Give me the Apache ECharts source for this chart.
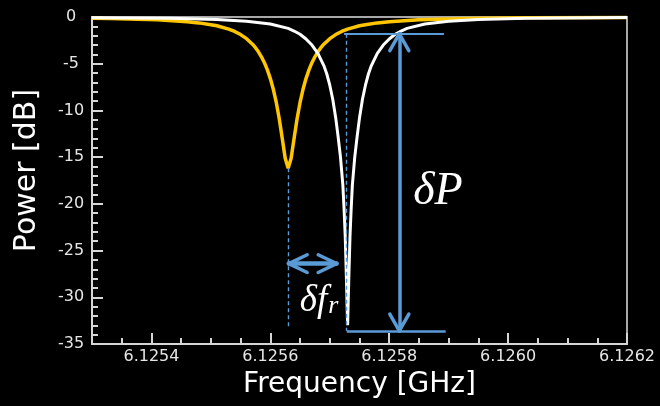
<!DOCTYPE html>
<html>
<head>
<meta charset="utf-8">
<script src="https://cdn.jsdelivr.net/npm/echarts@6/dist/echarts.min.js"></script>
<style>
html,body{margin:0;padding:0;background:#000;}
#chart{width:660px;height:406px;}
</style>
</head>
<body>
<div id="chart"></div>
<script>
// ---- Data ----
const freqYellow = [6.125300, 6.125330, 6.125410, 6.125460, 6.125480, 6.125500, 6.125510, 6.125530, 6.125540, 6.125550,
  6.125560, 6.125570, 6.125575, 6.125580, 6.125585, 6.125590, 6.125595, 6.125600, 6.125605, 6.125610,
  6.125615, 6.125620, 6.125625, 6.125630, 6.125635, 6.125640, 6.125645, 6.125650, 6.125655, 6.125660,
  6.125665, 6.125670, 6.125675, 6.125680, 6.125685, 6.125690, 6.125700, 6.125710, 6.125720, 6.125730,
  6.125750, 6.125760, 6.125780, 6.125800, 6.125850, 6.125930, 6.126030, 6.126200];
const powerYellow = [-0.14, -0.17, -0.30, -0.50, -0.63, -0.82, -0.94, -1.30, -1.55, -1.88,
  -2.32, -2.91, -3.28, -3.73, -4.26, -4.89, -5.66, -6.59, -7.74, -9.15,
  -10.89, -12.98, -15.12, -16.20, -15.12, -12.98, -10.89, -9.15, -7.74, -6.59,
  -5.66, -4.89, -4.26, -3.73, -3.28, -2.91, -2.32, -1.88, -1.55, -1.30,
  -0.94, -0.82, -0.63, -0.50, -0.30, -0.17, -0.09, -0.05];

const freqWhite = [6.125300, 6.125430, 6.125510, 6.125560, 6.125600, 6.125630, 6.125640, 6.125650, 6.125660, 6.125670,
  6.125680, 6.125690, 6.125695, 6.125700, 6.125705, 6.125710, 6.125714, 6.125718, 6.125722, 6.125724,
  6.125726, 6.125728, 6.125730, 6.125732, 6.125734, 6.125736, 6.125738, 6.125742, 6.125746, 6.125750,
  6.125755, 6.125760, 6.125765, 6.125770, 6.125780, 6.125790, 6.125800, 6.125810, 6.125820, 6.125830,
  6.125860, 6.125900, 6.125950, 6.126030, 6.126200];
const powerWhite = [-0.07, -0.14, -0.27, -0.45, -0.75, -1.22, -1.50, -1.85, -2.35, -3.00,
  -3.90, -5.20, -6.10, -7.30, -8.80, -10.80, -12.80, -15.00, -18.00, -20.50,
  -23.50, -28.00, -33.00, -28.00, -23.50, -20.50, -18.00, -15.00, -12.80, -10.80,
  -8.80, -7.30, -6.10, -5.20, -3.90, -3.00, -2.35, -1.85, -1.50, -1.22,
  -0.75, -0.45, -0.27, -0.14, -0.06];

const xTickValues = [6.1254, 6.1256, 6.1258, 6.1260, 6.1262];
const yTickValues = [0, -5, -10, -15, -20, -25, -30, -35];

// annotation anchors (data coordinates)
const fResYellow = 6.125630;
const fResWhite = 6.1257285;
const fArrow = 6.125817;
const pTop = -1.8;
const pBottom = -33.6;
const pDelta = -26.4;
const fLineEnd = 6.125892;

const zip = (xs, ys) => xs.map((x, i) => [x, ys[i]]);

const blue = '#5B9BD5';
function seg(x1, y1, x2, y2, style) {
  return [{coord: [x1, y1], lineStyle: style}, {coord: [x2, y2]}];
}
const solidThick = {color: blue, width: 3.5, type: 'solid', cap: 'round'};
const solidMid = {color: blue, width: 2.2, type: 'solid'};
const dashed = {color: blue, width: 1.4, type: [4, 3]};

const aAcrossX = 1.6e-5, aAlongY = 1.8;   // vertical arrow head
const hAlongX = 3.1e-5, hAcrossY = 0.95; // horizontal arrow head

const annotLines = [
  seg(fResWhite - 0.0000045, pTop, fLineEnd, pTop, solidMid),
  seg(fResWhite, pBottom, fLineEnd + 0.000003, pBottom, {color: blue, width: 2.6, type: 'solid'}),
  seg(fResWhite, pTop, fResWhite, pBottom, dashed),
  seg(fResYellow, -16.2, fResYellow, pBottom + 0.2, dashed),
  // vertical double arrow
  seg(fArrow, pTop, fArrow, pBottom, solidThick),
  seg(fArrow - aAcrossX, pTop - aAlongY, fArrow, pTop, solidThick),
  seg(fArrow + aAcrossX, pTop - aAlongY, fArrow, pTop, solidThick),
  seg(fArrow - aAcrossX, pBottom + aAlongY, fArrow, pBottom, solidThick),
  seg(fArrow + aAcrossX, pBottom + aAlongY, fArrow, pBottom, solidThick),
  // horizontal double arrow
  seg(fResYellow + 0.000001, pDelta, fResWhite - 0.000017, pDelta, {color: blue, width: 4.5, type: 'solid', cap: 'round'}),
  seg(fResYellow + 0.000001 + hAlongX, pDelta + hAcrossY, fResYellow + 0.000001, pDelta, solidThick),
  seg(fResYellow + 0.000001 + hAlongX, pDelta - hAcrossY, fResYellow + 0.000001, pDelta, solidThick),
  seg(fResWhite - 0.000017 - hAlongX, pDelta + hAcrossY, fResWhite - 0.000017, pDelta, solidThick),
  seg(fResWhite - 0.000017 - hAlongX, pDelta - hAcrossY, fResWhite - 0.000017, pDelta, solidThick)
];

const chart = echarts.init(document.getElementById('chart'), null, {renderer: 'canvas'});
const axisCol = '#d6d6d6';
const gridRect = {left: 92, right: 33, top: 17, bottom: 62};
const option = {
  backgroundColor: '#000000',
  animation: false,
  grid: [
    Object.assign({show: true, borderColor: '#a8a8a8', borderWidth: 2, backgroundColor: 'transparent'}, gridRect),
    Object.assign({show: false}, gridRect)
  ],
  xAxis: [{
    type: 'value', gridIndex: 0, min: 6.1253, max: 6.1262, position: 'bottom',
    name: 'Frequency [GHz]', nameLocation: 'middle', nameGap: 27,
    nameTextStyle: {color: '#ffffff', fontSize: 28, fontFamily: 'DejaVu Sans'},
    axisLine: {show: true, onZero: false, lineStyle: {color: axisCol, width: 2}},
    axisTick: {show: true, inside: true, length: 11, customValues: xTickValues, lineStyle: {color: axisCol, width: 2}},
    axisLabel: {show: true, customValues: xTickValues, formatter: v => Number(v).toFixed(4), color: '#e6e6e6', fontSize: 16, fontFamily: 'DejaVu Sans', margin: 5},
    splitLine: {show: false}
  }, {
    type: 'value', gridIndex: 1, min: 6.1253, max: 6.1262, interval: 0.00005, position: 'bottom',
    axisLine: {show: false, onZero: false},
    axisTick: {show: true, inside: true, length: 6, lineStyle: {color: axisCol, width: 2}},
    axisLabel: {show: false},
    splitLine: {show: false}
  }],
  yAxis: [{
    type: 'value', gridIndex: 0, min: yTickValues[yTickValues.length - 1], max: yTickValues[0], interval: 5,
    name: 'Power [dB]', nameLocation: 'middle', nameGap: 50, nameRotate: 90,
    nameTextStyle: {color: '#ffffff', fontSize: 30, fontFamily: 'DejaVu Sans', padding: [0, 0, 0, 20]},
    axisLine: {show: true, onZero: false, lineStyle: {color: axisCol, width: 2}},
    axisTick: {show: true, inside: true, length: 11, lineStyle: {color: axisCol, width: 2}},
    minorTick: {show: true, splitNumber: 5, length: 6, lineStyle: {color: axisCol, width: 2}},
    axisLabel: {color: '#e6e6e6', fontSize: 16, fontFamily: 'DejaVu Sans', align: 'center', margin: 21},
    splitLine: {show: false}
  }, {
    type: 'value', gridIndex: 1, min: -35, max: 0, show: false
  }],
  series: [{
    name: 'yellow', type: 'line', data: zip(freqYellow, powerYellow),
    showSymbol: false, symbol: 'none', silent: true,
    lineStyle: {color: '#FFC600', width: 3.5}
  }, {
    name: 'white', type: 'line', data: zip(freqWhite, powerWhite),
    showSymbol: false, symbol: 'none', silent: true,
    lineStyle: {color: '#ffffff', width: 3}
  }, {
    name: 'annot', type: 'line', data: [], symbol: 'none', silent: true,
    markLine: {silent: true, symbol: 'none', label: {show: false}, emphasis: {disabled: true}, data: annotLines},
    markPoint: {
      silent: true, symbol: 'circle', symbolSize: 1, itemStyle: {color: 'rgba(0,0,0,0)'},
      data: [{
        coord: [6.125882, -18.7],
        label: {show: true, position: 'inside', formatter: 'δP', color: '#ffffff', fontSize: 46, fontStyle: 'italic', fontFamily: 'Liberation Serif'}
      }, {
        coord: [6.125682, -30.4],
        label: {show: true, position: 'inside', formatter: '{a|δf}{b|r}',
          rich: {
            a: {color: '#ffffff', fontSize: 37, fontStyle: 'italic', fontFamily: 'Liberation Serif', lineHeight: 37, verticalAlign: 'top', padding: [0, 1, 6, 0]},
            b: {color: '#ffffff', fontSize: 26, fontStyle: 'italic', fontFamily: 'Liberation Serif', lineHeight: 26, verticalAlign: 'bottom'}
          }}
      }]
    }
  }]
};
chart.setOption(option);
</script>
</body>
</html>
